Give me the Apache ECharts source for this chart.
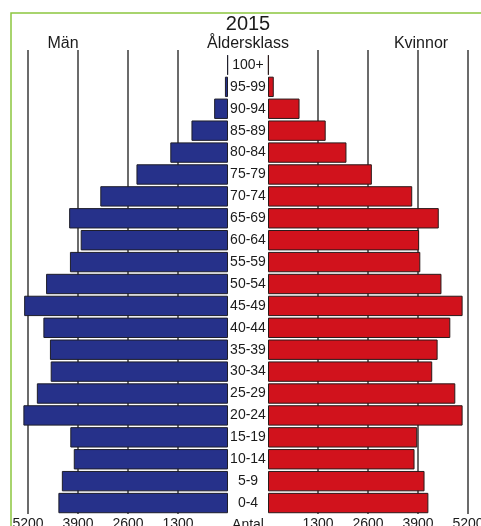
<!DOCTYPE html>
<html>
<head>
<meta charset="utf-8">
<script src="https://cdn.jsdelivr.net/npm/echarts@6/dist/echarts.min.js"></script>
<style>
  html, body { margin: 0; padding: 0; background: #ffffff; }
  #chart { width: 481px; height: 526px; }
</style>
</head>
<body>
<div id="chart"></div>
<script>
// Age groups, youngest at the bottom of the pyramid
const ageGroups = ['0-4', '5-9', '10-14', '15-19', '20-24', '25-29', '30-34', '35-39',
  '40-44', '45-49', '50-54', '55-59', '60-64', '65-69', '70-74', '75-79', '80-84',
  '85-89', '90-94', '95-99', '100+'];

// Population 2015 by sex (antal)
const men = [4410, 4320, 4010, 4100, 5320, 4970, 4610, 4630, 4800, 5300, 4730,
  4110, 3830, 4130, 3320, 2380, 1500, 950, 360, 80, 20];
const women = [4170, 4070, 3810, 3880, 5060, 4870, 4270, 4410, 4740, 5060, 4510,
  3960, 3930, 4440, 3750, 2700, 2040, 1500, 820, 150, 20];

// Count scale shared by both halves
const axisMax = 5200;
const axisStep = 1300;

const textColor = '#1b1b1b';
const fontFamily = '"Liberation Sans", Arial, sans-serif';

const chart = echarts.init(document.getElementById('chart'), null, { renderer: 'canvas' });

const countAxis = (gridIndex, inverse, withGrid) => ({
  type: 'value',
  gridIndex,
  inverse,
  min: 0,
  max: axisMax,
  interval: axisStep,
  axisLine: { show: false },
  axisTick: { show: false },
  axisLabel: withGrid ? {
    show: true,
    fontSize: 14,
    fontFamily,
    color: textColor,
    margin: 3,
    formatter: v => (v === 0 ? '' : String(v))
  } : { show: false },
  splitLine: withGrid ? {
    show: true,
    showMinLine: false,
    lineStyle: { color: '#3a3a3a', width: 1.5 }
  } : { show: false }
});

// Fixed plot boxes; labels are allowed to run off the page edge
const box = (left, top, height) => ({ left, width: 200, top, height, outerBoundsMode: 'none', containLabel: false });

const option = {
  backgroundColor: '#ffffff',
  animation: false,
  grid: [
    box(28, 54, 460),
    box(268, 54, 460),
    box(28, 50, 464),
    box(268, 50, 464)
  ],
  xAxis: [
    countAxis(0, true, false),
    countAxis(1, false, false),
    countAxis(2, true, true),
    countAxis(3, false, true)
  ],
  yAxis: [
    {
      type: 'category', gridIndex: 0, data: ageGroups, position: 'right',
      axisLine: { show: false }, axisTick: { show: false },
      axisLabel: { align: 'center', margin: 20, fontSize: 14, fontFamily, color: textColor }
    },
    {
      type: 'category', gridIndex: 1, data: ageGroups,
      axisLine: { show: false }, axisTick: { show: false }, axisLabel: { show: false }
    },
    { type: 'value', gridIndex: 2, show: false },
    { type: 'value', gridIndex: 3, show: false }
  ],
  series: [
    {
      name: 'Män', type: 'bar', xAxisIndex: 0, yAxisIndex: 0,
      data: men, barCategoryGap: '7%', clip: false, z: 3,
      itemStyle: { color: '#26318a', borderColor: '#1e1e2a', borderWidth: 1 }
    },
    {
      name: 'Kvinnor', type: 'bar', xAxisIndex: 1, yAxisIndex: 1,
      data: women, barCategoryGap: '7%', clip: false, z: 3,
      itemStyle: { color: '#d1121c', borderColor: '#2a1a1a', borderWidth: 1 }
    }
  ],
  graphic: [
    {
      type: 'rect', silent: true, z: -1,
      shape: { x: 11, y: 13, width: 520, height: 560 },
      style: { fill: null, stroke: '#8cc63f', lineWidth: 1.5 }
    },
    {
      type: 'text', x: 248, y: 24,
      style: { text: '2015', align: 'center', verticalAlign: 'middle', fill: textColor, font: '20px ' + fontFamily }
    },
    {
      type: 'text', x: 248, y: 44,
      style: { text: 'Åldersklass', align: 'center', verticalAlign: 'middle', fill: textColor, font: '16px ' + fontFamily }
    },
    {
      type: 'text', x: 63, y: 44,
      style: { text: 'Män', align: 'center', verticalAlign: 'middle', fill: textColor, font: '16px ' + fontFamily }
    },
    {
      type: 'text', x: 421, y: 44,
      style: { text: 'Kvinnor', align: 'center', verticalAlign: 'middle', fill: textColor, font: '16px ' + fontFamily }
    },
    {
      type: 'text', x: 248, y: 525,
      style: { text: 'Antal', align: 'center', verticalAlign: 'middle', fill: textColor, font: '14px ' + fontFamily }
    }
  ]
};

chart.setOption(option);
</script>
</body>
</html>
